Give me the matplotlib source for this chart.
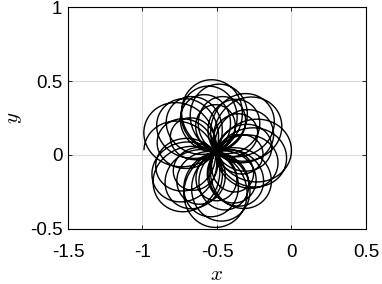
import numpy as np
import matplotlib
matplotlib.use("Agg")
import matplotlib.pyplot as plt

plt.rcParams['font.family'] = ['Liberation Sans', 'DejaVu Sans']
plt.rcParams['mathtext.fontset'] = 'cm'

# punto central por donde pasan todos los lazos
hub_x = -0.51
hub_y = 0.02

# lazos: direccion (grados) y alcance desde el centro
loop_dir = [178, 155, 140, 165, 128, 150,
            95, 100, 85, 108, 78, 90,
            45, 35, 28, 55, 40,
            2, -8, -16, 8, -5,
            -46, -52, -58, -48,
            -90, -82, -97, -75, -88,
            -137, -148, -128, -158, -118, -140]
loop_reach = [0.48, 0.51, 0.46, 0.40, 0.43, 0.33,
              0.49, 0.45, 0.46, 0.40, 0.38, 0.32,
              0.48, 0.50, 0.42, 0.40, 0.33,
              0.51, 0.48, 0.43, 0.38, 0.32,
              0.46, 0.42, 0.38, 0.32,
              0.51, 0.47, 0.44, 0.40, 0.33,
              0.50, 0.47, 0.44, 0.42, 0.38, 0.33]

k = 1.25  # forma de petalo (algo mas estrecho que un circulo)

xs, ys = [], []
for i, (phi, d) in enumerate(zip(loop_dir, loop_reach)):
    lim = np.pi / (2 * k)
    if i == 0:
        th = np.linspace(0, -lim, 60)   # empieza en el extremo del primer lazo
    else:
        th = np.linspace(lim, -lim, 140)
    r = d * np.cos(k * th)
    ang = np.deg2rad(phi) + th
    xs.append(hub_x + r * np.cos(ang))
    ys.append(hub_y + r * np.sin(ang))
x = np.concatenate(xs)
y = np.concatenate(ys)

fig = plt.figure(figsize=(3.82, 2.84), dpi=100)
ax = fig.add_axes([0.178, 0.194, 0.780, 0.781])
ax.plot(x, y, color='black', linewidth=1.0)

ax.set_xlim(-1.5, 0.5)
ax.set_ylim(-0.5, 1)
ax.set_xticks([-1.5, -1, -0.5, 0, 0.5])
ax.set_xticklabels(['-1.5', '-1', '-0.5', '0', '0.5'])
ax.set_yticks([-0.5, 0, 0.5, 1])
ax.set_yticklabels(['-0.5', '0', '0.5', '1'])
ax.grid(True, color='#dcdcdc', linewidth=0.8)
ax.set_axisbelow(True)
ax.tick_params(direction='in', length=3, width=0.6, labelsize=13.5,
               top=True, right=True)
ax.tick_params(axis='x', pad=11)
ax.tick_params(axis='y', pad=4)
for s in ax.spines.values():
    s.set_linewidth(0.8)
ax.set_xlabel('$x$', fontsize=15, labelpad=3)
ax.set_ylabel('$y$', fontsize=15, labelpad=4)

plt.savefig('out.png', dpi=100)
